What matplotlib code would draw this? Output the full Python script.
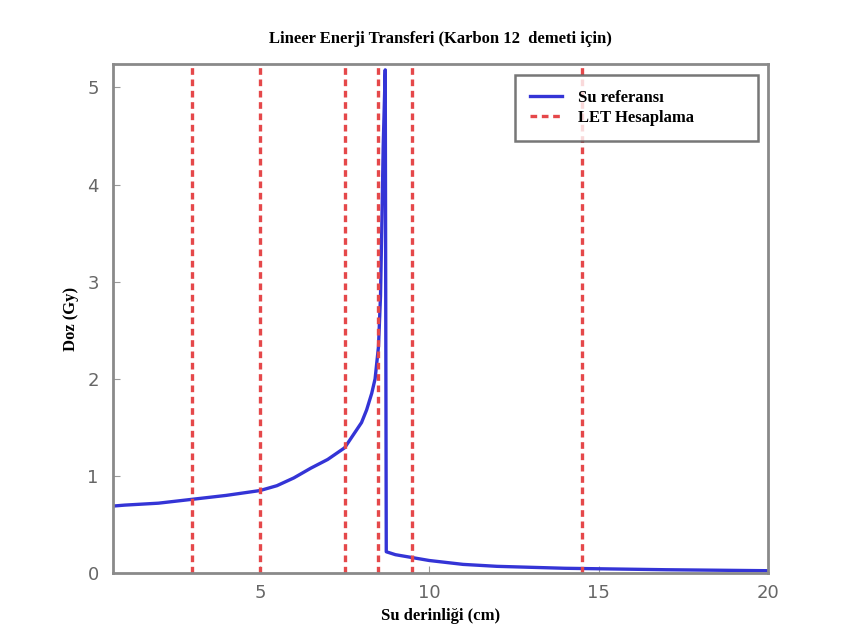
import numpy as np
import matplotlib.pyplot as plt

# Bragg curve of the water reference
depth = [0.65, 1.0, 2.0, 3.0, 4.0, 5.0, 5.5, 6.0, 6.5, 7.0, 7.5, 8.0, 8.15,
         8.3, 8.4, 8.5, 8.56, 8.6, 8.64, 8.7, 8.73, 9.0, 9.5, 10.0, 11.0,
         12.0, 13.0, 14.0, 15.0, 17.0, 20.0]
dose = [0.69, 0.70, 0.72, 0.76, 0.80, 0.85, 0.90, 0.98, 1.08, 1.17, 1.29,
        1.55, 1.68, 1.85, 2.0, 2.33, 2.85, 3.6, 4.4, 5.18, 0.22, 0.19, 0.16,
        0.13, 0.09, 0.07, 0.06, 0.05, 0.045, 0.035, 0.025]

# depths where LET was calculated
let_depths = [3.0, 5.0, 7.5, 8.5, 9.5, 14.5]

title = 'Lineer Enerji Transferi (Karbon 12  demeti için)'
serif = {'family': 'Liberation Serif', 'weight': 'bold'}

fig = plt.figure(figsize=(8.41, 6.34), dpi=100)
ax = fig.add_axes([0.134, 0.096, 0.779, 0.803])

ax.plot(depth, dose, color='#3434d6', linewidth=2.4, label='Su referansı')
for i, d in enumerate(let_depths):
    ax.axvline(d, color='#e5484a', linestyle=(0, (2, 1.4)), linewidth=2.4,
               label='LET Hesaplama' if i == 0 else None)

ax.set_xlim(0.65, 20)
ax.set_ylim(0, 5.24)
ax.set_xticks([5, 10, 15, 20])
ax.set_yticks([0, 1, 2, 3, 4, 5])
ax.tick_params(direction='in', length=5, color='#999999', labelcolor='#666666',
               labelsize=13)
ax.tick_params(axis='x', pad=8)
ax.tick_params(axis='y', pad=10)
for s in ax.spines.values():
    s.set_color('#8a8a8a')
    s.set_linewidth(2)

ax.set_title(title, fontdict=serif, fontsize=12, pad=15)
ax.set_xlabel('Su derinliği (cm)', fontdict=serif, fontsize=12, labelpad=4)
ax.set_ylabel('Doz (Gy)', fontdict=serif, fontsize=12, labelpad=6)

leg = ax.legend(loc='upper left', mode='expand',
                bbox_to_anchor=(0.614, 0.851, 0.371, 0.127), borderaxespad=0,
                prop={'family': 'Liberation Serif', 'weight': 'bold', 'size': 12},
                fancybox=False, edgecolor='#555555', borderpad=0.9,
                handlelength=1.9, handletextpad=1.0, labelspacing=0.2)
leg.get_frame().set_linewidth(1.8)

fig.savefig('out.png', dpi=100)
